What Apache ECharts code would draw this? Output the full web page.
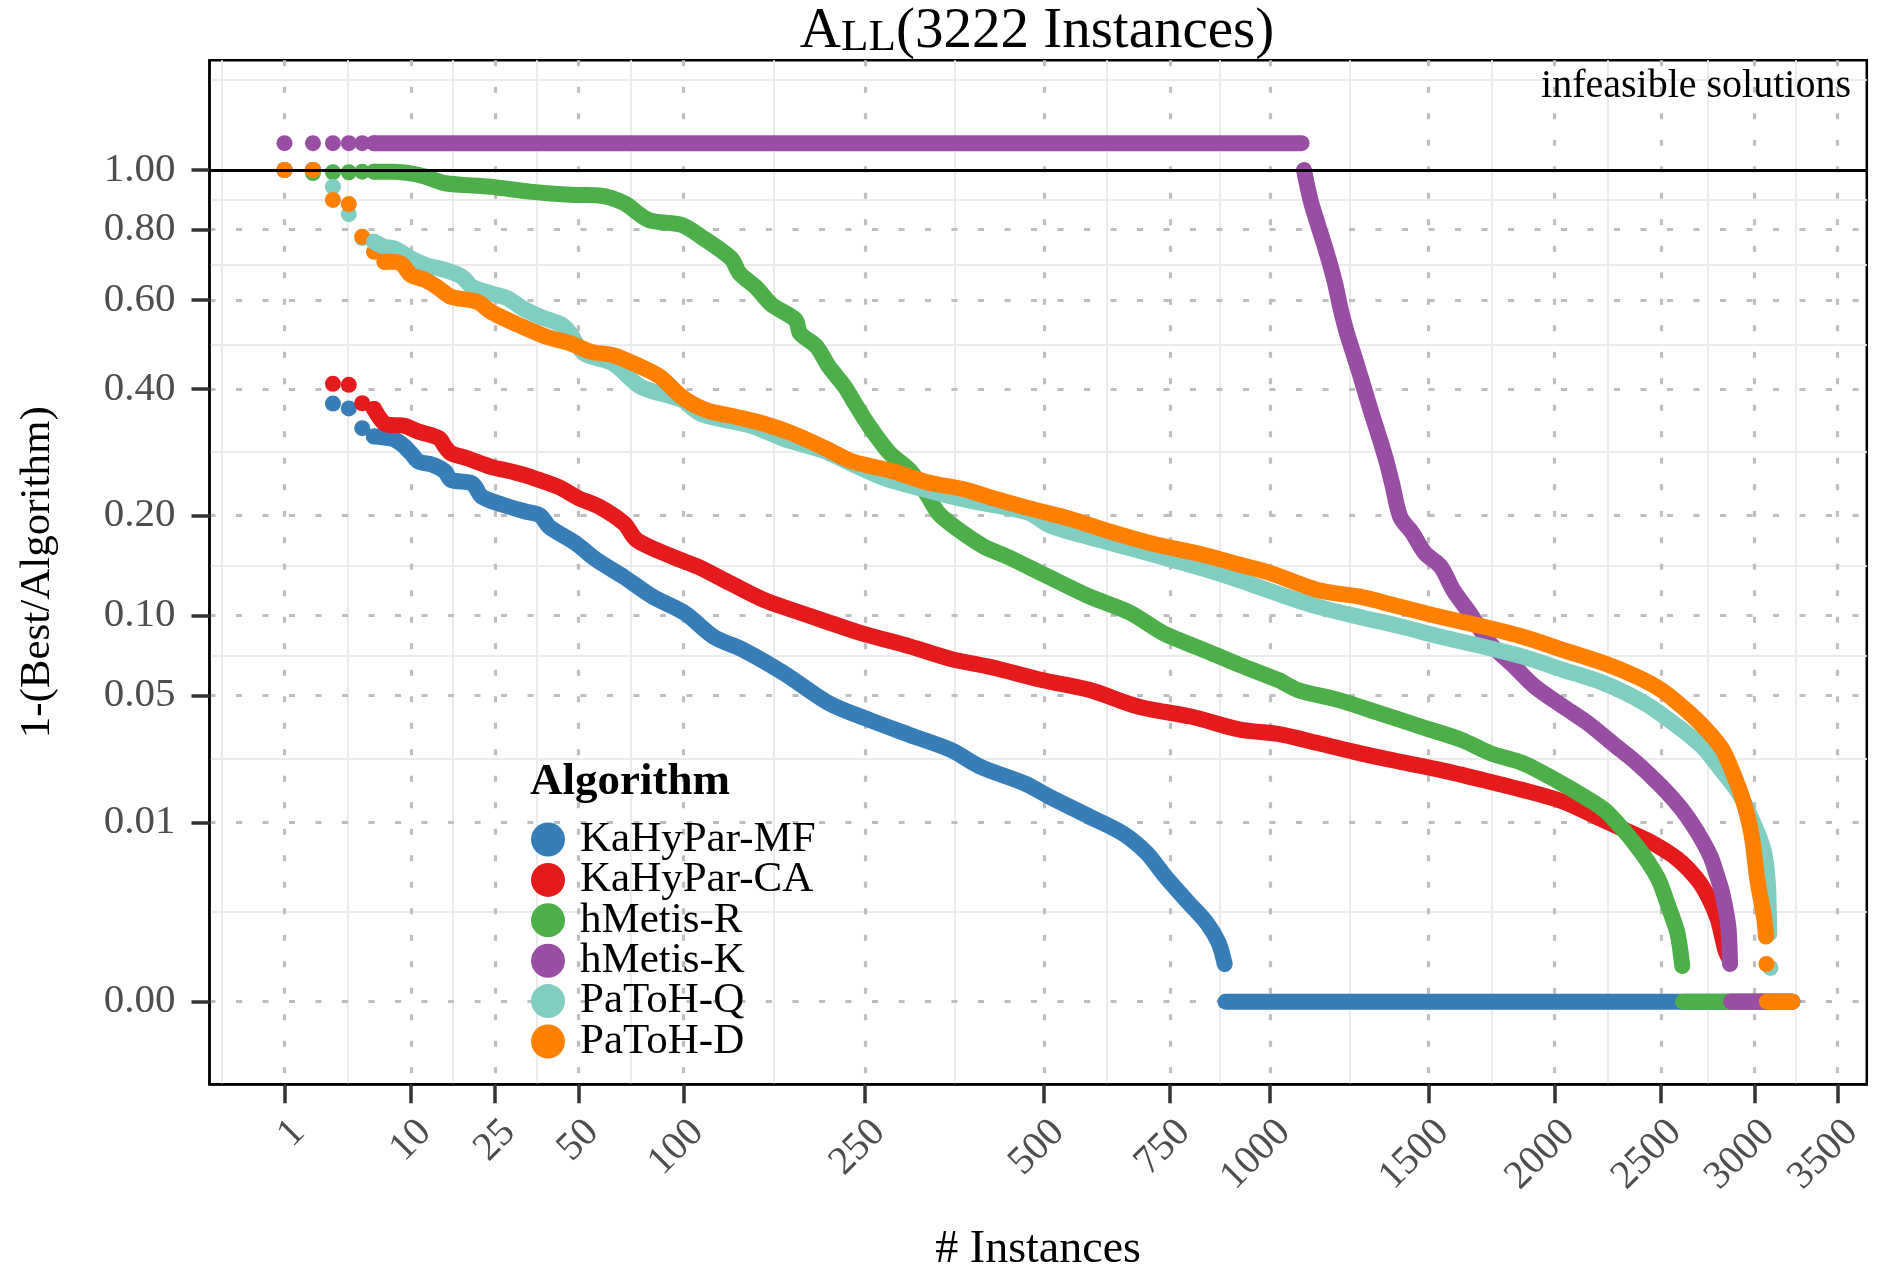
<!DOCTYPE html>
<html>
<head>
<meta charset="utf-8">
<title>All (3222 Instances)</title>
<script src="https://cdn.jsdelivr.net/npm/echarts@6/dist/echarts.min.js"></script>
<style>
  html, body { margin: 0; padding: 0; background: #fff; }
  #chart { width: 1877px; height: 1268px; }
</style>
</head>
<body>
<div id="chart"></div>
<script>
  // algorithms in drawing order (later ones end up on top)
  var algorithms = ['KaHyPar-MF', 'KaHyPar-CA', 'hMetis-R', 'hMetis-K', 'PaToH-Q', 'PaToH-D'];
  var colors = ['#377EB8', '#E41A1C', '#4DAF4A', '#984EA3', '#80CDC1', '#FF7F00'];

  var xTicks = [1, 10, 25, 50, 100, 250, 500, 750, 1000, 1500, 2000, 2500, 3000, 3500];
  var yTicks = [0, 0.01, 0.05, 0.10, 0.20, 0.40, 0.60, 0.80, 1.00];
  var yTickLabels = ['0.00', '0.01', '0.05', '0.10', '0.20', '0.40', '0.60', '0.80', '1.00'];
  var totalInstances = 3222;
  var infeasibleLevel = 1.1;

  // points are [instance, 1 - best/algorithm]
  // single dots (start of the profile, isolated tail dots)
  var mfDots = [[1, 1], [2, 1], [3, 0.372], [4, 0.363], [5, 0.328], [6, 0.314]];
  var caDots = [[1, 1], [2, 1], [3, 0.410], [4, 0.408], [5, 0.3725], [6, 0.362]];
  var hrDots = [[1, 1], [2, 0.989], [3, 0.992], [4, 0.992], [5, 0.994], [6, 0.994]];
  var hkDots = [];
  var pqDots = [[1, 1], [2, 1], [3, 0.941], [4, 0.849], [5, 0.774], [6, 0.763], [3093, 0.000067]];
  var pdDots = [[1, 1], [2, 1], [3, 0.896], [4, 0.882], [5, 0.778], [6, 0.733], [7, 0.704], [3070, 0.000093]];

  // dense part of each profile
  var mfCurve = [[6, 0.314], [7, 0.312], [8, 0.309], [9, 0.300], [10, 0.287], [11, 0.274], [13, 0.269], [15, 0.259],
    [16, 0.247], [20, 0.242], [22, 0.224], [27, 0.213], [33, 0.2045], [37, 0.200], [40, 0.186], [49, 0.1675],
    [57, 0.150], [69, 0.133], [83, 0.1155], [101, 0.102], [119, 0.0845], [140, 0.0756], [172, 0.0616],
    [213, 0.0462], [255, 0.0389], [302, 0.0330], [356, 0.0277], [397, 0.0226], [467, 0.0181], [509, 0.0150],
    [583, 0.0110], [648, 0.0083], [699, 0.0057], [739, 0.00345], [794, 0.00166], [837, 0.00084],
    [866, 0.00035], [881, 0.000093]];
  var caCurve = [[6, 0.362], [7, 0.336], [8, 0.333], [9, 0.3325], [11, 0.322], [14, 0.311], [15, 0.297],
    [16, 0.287], [19, 0.279], [24, 0.266], [29, 0.259], [34, 0.2515], [43, 0.237], [50, 0.222], [58, 0.211],
    [69, 0.190], [75, 0.171], [94, 0.153], [109, 0.143], [131, 0.127], [155, 0.113], [179, 0.1045],
    [205, 0.097], [246, 0.087], [302, 0.078], [356, 0.070], [415, 0.065], [494, 0.058], [583, 0.0526],
    [682, 0.0446], [801, 0.0402], [920, 0.0350], [1022, 0.0334], [1139, 0.0300], [1266, 0.0267],
    [1401, 0.0240], [1546, 0.0216], [1701, 0.0190], [1865, 0.0165], [2039, 0.0139], [2186, 0.0110],
    [2321, 0.0088], [2460, 0.0069], [2586, 0.0050], [2691, 0.0031], [2755, 0.0018], [2798, 0.00095],
    [2838, 0.00024], [2858, 0.000145]];
  var hrCurve = [[6, 0.994], [8, 0.994], [10, 0.988], [12, 0.976], [15, 0.953], [24, 0.941], [34, 0.924],
    [47, 0.913], [58, 0.911], [69, 0.885], [81, 0.830], [99, 0.815], [111, 0.778], [131, 0.714], [137, 0.672],
    [149, 0.635], [162, 0.588], [182, 0.551], [186, 0.519], [201, 0.489], [213, 0.445], [229, 0.404],
    [237, 0.379], [255, 0.331], [278, 0.287], [302, 0.261], [323, 0.228], [339, 0.2025], [361, 0.186],
    [403, 0.164], [440, 0.153], [509, 0.133], [583, 0.1155], [665, 0.102], [735, 0.087], [830, 0.0756],
    [920, 0.0663], [1022, 0.0579], [1079, 0.0526], [1201, 0.0477], [1333, 0.0417], [1472, 0.0362],
    [1622, 0.0312], [1732, 0.0267], [1865, 0.0236], [2002, 0.0190], [2131, 0.0150], [2224, 0.0123],
    [2301, 0.0093], [2380, 0.0065], [2439, 0.0046], [2489, 0.0031], [2537, 0.0015], [2583, 0.00056],
    [2608, 0.000079]];
  var hkCurve = [[1096, 1.0], [1115, 0.896], [1139, 0.809], [1164, 0.7285], [1189, 0.6445], [1207, 0.575],
    [1226, 0.519], [1253, 0.459], [1279, 0.404], [1305, 0.354], [1333, 0.308], [1353, 0.276], [1373, 0.242],
    [1401, 0.198], [1443, 0.179], [1487, 0.157], [1545, 0.143], [1591, 0.121], [1653, 0.102], [1732, 0.080],
    [1831, 0.0653], [1916, 0.0543], [2039, 0.0446], [2149, 0.0375], [2262, 0.0300], [2380, 0.0236],
    [2502, 0.0173], [2607, 0.0123], [2691, 0.0083], [2758, 0.0053], [2801, 0.0031], [2822, 0.0022],
    [2855, 0.00073], [2864, 0.000093]];
  var pqCurve = [[6, 0.763], [7, 0.748], [8, 0.743], [10, 0.714], [12, 0.695], [15, 0.681], [18, 0.662],
    [20, 0.635], [24, 0.618], [28, 0.605], [32, 0.5795], [37, 0.559], [44, 0.539], [47, 0.519], [52, 0.474],
    [64, 0.452], [77, 0.404], [99, 0.379], [111, 0.353], [146, 0.332], [172, 0.310], [209, 0.290],
    [237, 0.270], [273, 0.249], [323, 0.233], [378, 0.2195], [474, 0.203], [509, 0.188], [583, 0.174],
    [665, 0.162], [754, 0.150], [830, 0.141], [920, 0.130], [1022, 0.118], [1139, 0.107], [1266, 0.099],
    [1401, 0.092], [1545, 0.0845], [1701, 0.078], [1865, 0.0714], [2039, 0.0634], [2224, 0.0561],
    [2419, 0.0462], [2586, 0.0362], [2714, 0.0288], [2801, 0.0226], [2914, 0.0157], [2995, 0.0099],
    [3053, 0.0061], [3077, 0.0031], [3085, 0.00095], [3086, 0.00054]];
  var pdCurve = [[7, 0.704], [8, 0.704], [9, 0.695], [10, 0.667], [12, 0.653], [14, 0.631], [16, 0.609],
    [21, 0.596], [24, 0.571], [29, 0.5465], [34, 0.527], [39, 0.511], [47, 0.496], [55, 0.477], [64, 0.470],
    [77, 0.445], [87, 0.424], [99, 0.385], [114, 0.360], [134, 0.348], [155, 0.336], [179, 0.319],
    [209, 0.295], [237, 0.274], [283, 0.259], [323, 0.244], [378, 0.233], [409, 0.224], [474, 0.209],
    [545, 0.196], [623, 0.1805], [708, 0.1675], [830, 0.155], [920, 0.145], [1000, 0.137], [1139, 0.121],
    [1266, 0.1155], [1401, 0.107], [1545, 0.099], [1701, 0.092], [1865, 0.0845], [2039, 0.0756],
    [2224, 0.0674], [2380, 0.0597], [2502, 0.0526], [2628, 0.0431], [2736, 0.0349], [2824, 0.0277],
    [2881, 0.0207], [2936, 0.0143], [2983, 0.0083], [3018, 0.0031], [3039, 0.0018], [3058, 0.00095],
    [3067, 0.00048]];

  // first instance where the algorithm is the best one (value 0 up to the last instance)
  var zeroFrom = [883, 2862, 2612, 2870, 3094, 3072];

  // hMetis-K infeasible solutions (drawn above 1.00)
  var hkInfeasibleDots = [1, 2, 3, 4, 5, 6];
  var hkInfeasibleRun = [6, 1089];

  var dots = [mfDots, caDots, hrDots, hkDots, pqDots, pdDots];
  var curves = [mfCurve, caCurve, hrCurve, hkCurve, pqCurve, pdCurve];

  // both axes use a cube-root transform
  function tr(p) { return [Math.cbrt(p[0]), Math.cbrt(p[1])]; }

  var xTicksT = xTicks.map(Math.cbrt);
  var yTicksT = yTicks.map(Math.cbrt);
  var xMinorT = [xTicksT[0] - (xTicksT[1] - xTicksT[0]) / 2];
  for (var i = 1; i < xTicksT.length; i++) xMinorT.push((xTicksT[i - 1] + xTicksT[i]) / 2);
  var yMinorT = [];
  for (var j = 1; j < yTicksT.length; j++) yMinorT.push((yTicksT[j - 1] + yTicksT[j]) / 2);
  yMinorT.push(1.108);

  var xMin = 0.315, xMax = 15.45, yMin = -0.0993, yMax = 1.1319;
  var serif = "'Liberation Serif', 'Times New Roman', serif";
  var dotSize = 16, bandWidth = 16;

  function nearest(arr, v) {
    var best = 0;
    for (var k = 1; k < arr.length; k++) {
      if (Math.abs(arr[k] - v) < Math.abs(arr[best] - v)) best = k;
    }
    return best;
  }

  function dotSeries(name, c, data) {
    return { name: name, type: 'scatter', symbolSize: dotSize, data: data, itemStyle: { color: c, opacity: 1 } };
  }
  function bandSeries(name, c, data, smooth) {
    return {
      name: name, type: 'line', showSymbol: false, data: data,
      smooth: smooth ? 0.3 : false,
      itemStyle: { color: c },
      lineStyle: { color: c, width: bandWidth, cap: 'round', join: 'round' }
    };
  }

  var series = [];
  algorithms.forEach(function (name, i) {
    var c = colors[i];
    if (name === 'hMetis-K') {
      series.push(dotSeries(name, c, hkInfeasibleDots.map(function (n) { return tr([n, infeasibleLevel]); })));
      series.push(bandSeries(name, c, hkInfeasibleRun.map(function (n) { return tr([n, infeasibleLevel]); }), false));
    }
    series.push(dotSeries(name, c, dots[i].map(tr)));
    series.push(bandSeries(name, c, curves[i].map(tr), true));
    series.push(bandSeries(name, c, [tr([zeroFrom[i], 0]), tr([totalInstances, 0])], false));
  });

  // black reference line at 1.00
  series[series.length - 1].markLine = {
    silent: true,
    symbol: ['none', 'none'],
    label: { show: false },
    lineStyle: { color: '#000', width: 3, type: 'solid' },
    data: [{ yAxis: 1 }]
  };

  var majorGrid = { color: '#BEBEBE', width: 3.2, type: [6, 20.5] };
  var minorGrid = { color: '#EBEBEB', width: 2 };
  var tickStyle = { color: '#333333', width: 3.5 };

  var chart = echarts.init(document.getElementById('chart'), null, { renderer: 'canvas' });
  chart.setOption({
    animation: false,
    backgroundColor: '#fff',
    title: [
      {
        text: '{a|A}{b|LL}{a|(3222 Instances)}',
        left: 1037, top: 4, textAlign: 'center', padding: 0,
        textStyle: {
          fontWeight: 'normal',
          rich: {
            a: { fontFamily: serif, fontSize: 57, lineHeight: 57, fontWeight: 'normal', color: '#000', verticalAlign: 'bottom' },
            b: { fontFamily: serif, fontSize: 45, lineHeight: 57, fontWeight: 'normal', color: '#000', verticalAlign: 'bottom' }
          }
        }
      },
      {
        text: 'infeasible solutions',
        right: 26, top: 66, padding: 0,
        textStyle: { fontFamily: serif, fontSize: 40, lineHeight: 40, fontWeight: 'normal', color: '#000' }
      },
      {
        text: 'Algorithm',
        left: 530, top: 760, padding: 0,
        textStyle: { fontFamily: serif, fontSize: 45, lineHeight: 45, fontWeight: 'bold', color: '#000' }
      }
    ],
    legend: {
      data: algorithms,
      orient: 'vertical',
      left: 531, top: 818,
      icon: 'circle',
      itemWidth: 34, itemHeight: 34, itemGap: -2.6,
      selectedMode: false,
      padding: 0,
      textStyle: { fontFamily: serif, fontSize: 43, lineHeight: 34, color: '#000', padding: [0, 0, 0, 10] }
    },
    grid: {
      left: 209.5, right: 10.2, top: 60.3, bottom: 183.7,
      outerBoundsMode: 'none',
      show: true, borderColor: '#000', borderWidth: 2.5, backgroundColor: 'transparent'
    },
    xAxis: [
      {
        type: 'value', min: xMin, max: xMax, position: 'bottom', z: 1,
        name: '# Instances', nameLocation: 'middle', nameGap: 143,
        nameTextStyle: { fontFamily: serif, fontSize: 46, color: '#000' },
        axisLine: { show: true, onZero: false, lineStyle: { color: '#000', width: 2.5 } },
        axisTick: { show: true, inside: false, length: 19, customValues: xTicksT, lineStyle: tickStyle },
        axisLabel: {
          show: true, customValues: xTicksT, rotate: 45, margin: 28, hideOverlap: false,
          align: 'right', verticalAlign: 'top',
          fontFamily: serif, fontSize: 40, color: '#4D4D4D',
          formatter: function (v) { return String(xTicks[nearest(xTicksT, v)]); }
        },
        splitLine: { show: true, lineStyle: majorGrid }
      },
      {
        type: 'value', min: xMin, max: xMax, position: 'bottom', z: 0,
        axisLine: { show: false, onZero: false },
        axisTick: { show: false, customValues: xMinorT },
        axisLabel: { show: false, customValues: xMinorT },
        splitLine: { show: true, lineStyle: minorGrid }
      }
    ],
    yAxis: [
      {
        type: 'value', min: yMin, max: yMax, position: 'left', z: 1,
        name: '1-(Best/Algorithm)', nameLocation: 'middle', nameGap: 150, nameRotate: 90,
        nameTextStyle: { fontFamily: serif, fontSize: 43, color: '#000' },
        axisLine: { show: true, onZero: false, lineStyle: { color: '#000', width: 2.5 } },
        axisTick: { show: true, inside: false, length: 18, customValues: yTicksT, lineStyle: tickStyle },
        axisLabel: {
          show: true, customValues: yTicksT, margin: 34, hideOverlap: false,
          fontFamily: serif, fontSize: 41, color: '#4D4D4D',
          formatter: function (v) { return yTickLabels[nearest(yTicksT, v)]; }
        },
        splitLine: { show: true, lineStyle: majorGrid }
      },
      {
        type: 'value', min: yMin, max: yMax, position: 'left', z: 0,
        axisLine: { show: false, onZero: false },
        axisTick: { show: false, customValues: yMinorT },
        axisLabel: { show: false, customValues: yMinorT },
        splitLine: { show: true, lineStyle: minorGrid }
      }
    ],
    series: series
  });
</script>
</body>
</html>
